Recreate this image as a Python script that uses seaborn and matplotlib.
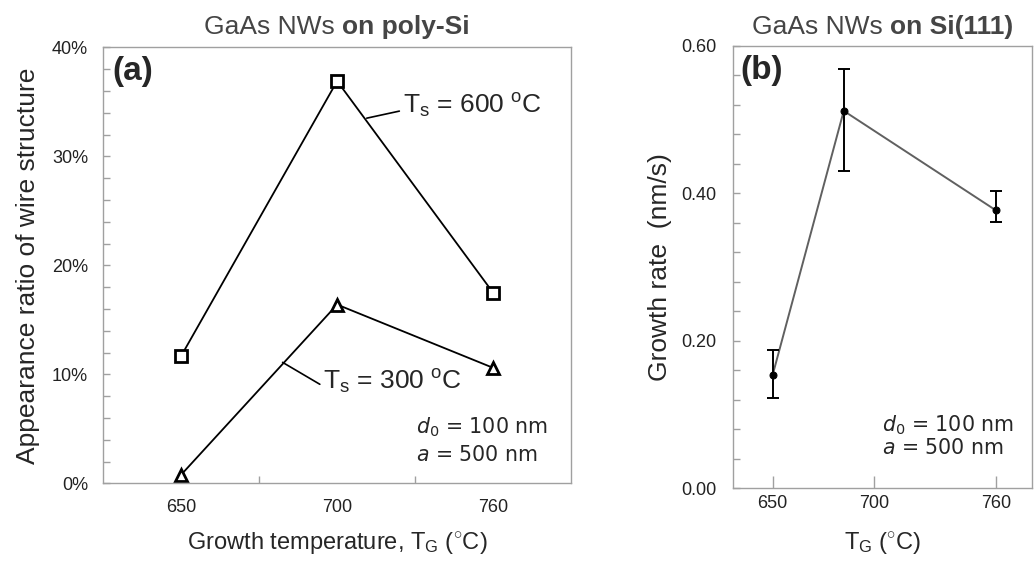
import numpy as np
import pandas as pd
import matplotlib.pyplot as plt
from matplotlib.ticker import MultipleLocator, FixedLocator, FuncFormatter
import seaborn as sns

# panel (a): appearance ratio (%) vs growth temperature, categorical axis
temps_a = ['650', '700', '760']
ratio_ts600 = [11.7, 36.9, 17.5]
ratio_ts300 = [0.8, 16.4, 10.6]

# panel (b): growth rate (nm/s) vs growth temperature
temps_b = [650, 685, 760]
rate_b = [0.154, 0.512, 0.377]
err_low = [0.031, 0.082, 0.016]
err_high = [0.034, 0.057, 0.026]
ticks_b = [650, 700, 760]

sns.set_style('ticks')
plt.rcParams['font.family'] = ['Liberation Sans', 'DejaVu Sans']
plt.rcParams['mathtext.fontset'] = 'custom'
plt.rcParams['mathtext.rm'] = 'Liberation Sans'
plt.rcParams['mathtext.it'] = 'Liberation Sans:italic'
plt.rcParams['mathtext.bf'] = 'Liberation Sans:bold'

spine_col = '#a0a0a0'
tick_col = '#222222'

fig = plt.figure(figsize=(10.34, 5.70), dpi=100)
ax1 = fig.add_axes([0.0999, 0.152, 0.4523, 0.765])
ax2 = fig.add_axes([0.7092, 0.1433, 0.2886, 0.776])

for ax in (ax1, ax2):
    for s in ax.spines.values():
        s.set_color(spine_col)
        s.set_linewidth(1.0)
    ax.tick_params(which='both', direction='in', color=spine_col, length=5,
                   width=1, labelsize=13, labelcolor=tick_col)

# ---- panel (a)
pos_a = np.arange(len(temps_a))
df_a = pd.DataFrame({'pos': pos_a, 'ts600': ratio_ts600, 'ts300': ratio_ts300})
sns.lineplot(data=df_a, x='pos', y='ts600', ax=ax1, color='black', lw=1.3,
             marker='s', markersize=9, markerfacecolor='white',
             markeredgecolor='black', markeredgewidth=2)
sns.lineplot(data=df_a, x='pos', y='ts300', ax=ax1, color='black', lw=1.3,
             marker='^', markersize=9, markerfacecolor='white',
             markeredgecolor='black', markeredgewidth=2)

ax1.set_xlim(-0.5, 2.5)
ax1.set_ylim(0, 40)
ax1.xaxis.set_major_locator(FixedLocator(pos_a))
ax1.set_xticklabels(temps_a)
ax1.xaxis.set_minor_locator(FixedLocator([0.5, 1.5]))
ax1.tick_params(axis='x', which='major', length=0, pad=11)
ax1.yaxis.set_major_locator(MultipleLocator(10))
ax1.yaxis.set_minor_locator(MultipleLocator(2))
ax1.yaxis.set_major_formatter(FuncFormatter(lambda v, p: f'{v:.0f}%'))
ax1.tick_params(axis='y', which='both', pad=11)

ax1.set_xlabel(r'Growth temperature, T$_\mathrm{G}$ ($^{\circ}$C)', fontsize=17)
ax1.set_ylabel('Appearance ratio of wire structure', fontsize=19)
ax1.xaxis.set_label_coords(0.5, -0.107)
ax1.yaxis.set_label_coords(-0.135, 0.5)

ax1.text(0.02, 0.945, '(a)', transform=ax1.transAxes, fontsize=24,
         fontweight='heavy', ha='left', va='center')
ax1.annotate(r'T$_\mathrm{s}$ = 600 $^\mathrm{o}$C', xy=(1.19, 33.5),
             xytext=(1.42, 34.6), fontsize=19, va='center', ha='left',
             arrowprops=dict(arrowstyle='-', color='black', lw=1.2,
                             shrinkA=0, shrinkB=0, relpos=(0, 0.35)))
ax1.annotate(r'T$_\mathrm{s}$ = 300 $^\mathrm{o}$C', xy=(0.65, 11.1),
             xytext=(0.91, 9.3), fontsize=19, va='center', ha='left',
             arrowprops=dict(arrowstyle='-', color='black', lw=1.2,
                             shrinkA=0, shrinkB=0, relpos=(0, 0.35)))

# ---- panel (b)
df_b = pd.DataFrame({'temp': temps_b, 'rate': rate_b})
sns.lineplot(data=df_b, x='temp', y='rate', ax=ax2, color='#606060', lw=1.4,
             marker='o', markersize=5, markerfacecolor='black',
             markeredgecolor='black')
ax2.errorbar(temps_b, rate_b, yerr=[err_low, err_high], fmt='none',
             ecolor='black', elinewidth=1.4, capsize=4, capthick=1.4)

ax2.set_xlim(630.6, 777.6)
ax2.set_ylim(0, 0.6)
ax2.xaxis.set_major_locator(FixedLocator(ticks_b))
ax2.yaxis.set_major_locator(MultipleLocator(0.2))
ax2.yaxis.set_minor_locator(MultipleLocator(0.04))
ax2.yaxis.set_major_formatter(FuncFormatter(lambda v, p: f'{v:.2f}'))
ax2.tick_params(axis='x', which='major', length=9, pad=5)
ax2.tick_params(axis='y', which='both', pad=12)

ax2.set_xlabel(r'T$_\mathrm{G}$ ($^{\circ}$C)', fontsize=17)
ax2.set_ylabel('Growth rate  (nm/s)', fontsize=19)
ax2.xaxis.set_label_coords(0.5, -0.095)
ax2.yaxis.set_label_coords(-0.205, 0.5)

ax2.text(0.025, 0.945, '(b)', transform=ax2.transAxes, fontsize=24,
         fontweight='heavy', ha='left', va='center')

# parameter notes
for ax, x0, y0, y1 in ((ax1, 0.669, 0.129, 0.066), (ax2, 0.497, 0.143, 0.091)):
    ax.text(x0, y0, r'$d_{\mathit{0}}$ = 100 nm', transform=ax.transAxes,
            fontsize=14.8, family='DejaVu Sans', math_fontfamily='dejavusans',
            ha='left', va='center')
    ax.text(x0, y1, r'$a$ = 500 nm', transform=ax.transAxes, fontsize=14.8,
            family='DejaVu Sans', math_fontfamily='dejavusans',
            ha='left', va='center')


def split_title(ax, plain, bold, y):
    r = fig.canvas.get_renderer()
    t1 = ax.text(0, y, plain, transform=ax.transAxes, fontsize=19,
                 color='#454545', va='baseline', ha='left')
    t2 = ax.text(0, y, bold, transform=ax.transAxes, fontsize=19,
                 color='#454545', va='baseline', ha='left', fontweight='bold')
    w1 = t1.get_window_extent(r).width
    w2 = t2.get_window_extent(r).width
    aw = ax.get_window_extent(r).width
    x0 = 0.5 - (w1 + w2) / 2 / aw
    t1.set_x(x0)
    t2.set_x(x0 + w1 / aw)


split_title(ax1, 'GaAs NWs ', 'on poly-Si', 1.03)
split_title(ax2, 'GaAs NWs ', 'on Si(111)', 1.027)

fig.savefig('out.png', dpi=100)
